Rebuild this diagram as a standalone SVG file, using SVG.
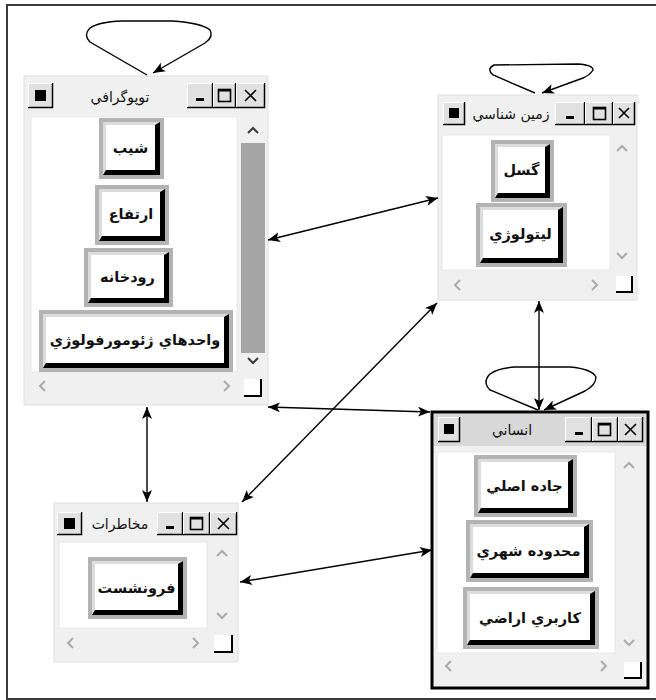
<svg xmlns="http://www.w3.org/2000/svg" width="656" height="700" viewBox="0 0 656 700">
<style>
.win{fill:#f0f0f0;stroke:#e0e0e0;stroke-width:1}
.win3{fill:#f0f0f0;stroke:#000;stroke-width:3}
.client{fill:#fff;stroke:#e8e8e8;stroke-width:1}
.tbf{fill:#e1e1e1}
.tbs{fill:none;stroke:#000;stroke-width:1.5}
.tbh{fill:none;stroke:#fff;stroke-width:1}
.ico{fill:none;stroke:#000;stroke-width:1.6}
.chev{fill:none;stroke:#ababab;stroke-width:2}
.on{stroke:#3c3c3c}
.thumb{fill:#a6a6a6}
.grip{fill:#fff}
.gripl{fill:none;stroke:#000;stroke-width:2}
.bfr{fill:#b3b3b3}
.bsh{fill:#000}
.bhl{fill:#dcdcdc}
.bfc{fill:#fff}
.lbl{font-family:"DejaVu Sans",sans-serif;font-size:14.5px;font-weight:bold;text-anchor:middle;fill:#111}
.ttl{font-family:"DejaVu Sans",sans-serif;font-size:14px;text-anchor:middle;fill:#111}
.conn{fill:none;stroke:#000;stroke-width:1.4}
</style>
<defs>
<marker id="ah" viewBox="0 0 12 10" refX="12" refY="5" markerWidth="12" markerHeight="10" markerUnits="userSpaceOnUse" orient="auto-start-reverse">
<path d="M0,0 L12,5 L0,10 L3,5 z" fill="#000"/>
</marker>
</defs>
<rect x="0" y="0" width="656" height="700" fill="#fff"/>
<rect x="7" y="5" width="670" height="694" fill="none" stroke="#3a3a3a" stroke-width="2"/>

<g id="node-topography">
<rect class="win" x="24" y="76" width="244" height="329"/>
<g transform="translate(28,83)"><rect class="tbf" width="25" height="25"/><path class="tbs" d="M0,24.5H24.5V0"/><path class="tbh" d="M0.5,24V0.5H24"/><rect x="7" y="7" width="11" height="11" fill="#000"/></g>
<text class="ttl" x="120" y="102">توپوگرافي</text>
<g transform="translate(187,83)"><rect class="tbf" width="26" height="25"/><path class="tbs" d="M0,24.5H25.5V0"/><path class="tbh" d="M0.5,24V0.5H25"/><rect x="9" y="15" width="8" height="3" fill="#000"/></g>
<g transform="translate(213,83)"><rect class="tbf" width="23" height="25"/><path class="tbs" d="M0,24.5H22.5V0"/><path class="tbh" d="M0.5,24V0.5H22"/><rect class="ico" x="5.5" y="6.5" width="12" height="12"/><rect x="5" y="6" width="13" height="2.5" fill="#000"/></g>
<g transform="translate(236,83)"><rect class="tbf" width="29" height="25"/><path class="tbs" d="M0,24.5H28.5V0"/><path class="tbh" d="M0.5,24V0.5H28"/><path class="ico" d="M9,7L20,18M20,7L9,18" stroke-width="2"/></g>
<rect class="client" x="31" y="117" width="206" height="255"/>
<rect class="thumb" x="241" y="143" width="24" height="210"/>
<path class="chev on" d="M248,133L253,128L258,133"/>
<path class="chev on" d="M248,358L253,363L258,358"/>
<path class="chev" d="M45,381L40,386L45,391"/>
<path class="chev" d="M224,381L229,386L224,391"/>
<rect class="grip" x="244" y="379" width="17" height="17"/><path class="gripl" d="M244,396H261V379"/>
<g id="btn-shib">
<rect class="bfr" x="99" y="118" width="65" height="61"/>
<rect class="bsh" x="103" y="122" width="57" height="53"/>
<polygon class="bhl" points="103,122 160,122 155,125 106,125 106,170 103,175"/>
<rect class="bfc" x="106" y="125" width="49" height="45"/>
<text class="lbl" x="130.5" y="153">شيب</text>
</g>
<g id="btn-ertefa">
<rect class="bfr" x="95" y="185" width="74" height="60"/>
<rect class="bsh" x="99" y="189" width="66" height="52"/>
<polygon class="bhl" points="99,189 165,189 160,192 102,192 102,236 99,241"/>
<rect class="bfc" x="102" y="192" width="58" height="44"/>
<text class="lbl" x="131" y="219">ارتفاع</text>
</g>
<g id="btn-roodkhane">
<rect class="bfr" x="84" y="248" width="89" height="59"/>
<rect class="bsh" x="88" y="252" width="81" height="51"/>
<polygon class="bhl" points="88,252 169,252 164,255 91,255 91,298 88,303"/>
<rect class="bfc" x="91" y="255" width="73" height="43"/>
<text class="lbl" x="127.5" y="282">رودخانه</text>
</g>
<g id="btn-geomorph">
<rect class="bfr" x="39" y="310" width="194" height="62"/>
<rect class="bsh" x="43" y="314" width="186" height="54"/>
<polygon class="bhl" points="43,314 229,314 224,317 46,317 46,363 43,368"/>
<rect class="bfc" x="46" y="317" width="178" height="46"/>
<text class="lbl" x="135" y="345">واحدهاي ژئومورفولوژي</text>
</g>
</g>

<g id="node-geology">
<rect class="win" x="438" y="95" width="199" height="205"/>
<g transform="translate(443,102)"><rect class="tbf" width="22" height="23"/><path class="tbs" d="M0,22.5H21.5V0"/><path class="tbh" d="M0.5,22V0.5H21"/><rect x="6" y="6" width="10" height="10" fill="#000"/></g>
<text class="ttl" x="511" y="119">زمين شناسي</text>
<g transform="translate(555,102)"><rect class="tbf" width="30" height="23"/><path class="tbs" d="M0,22.5H29.5V0"/><path class="tbh" d="M0.5,22V0.5H29"/><rect x="11" y="14" width="8" height="3" fill="#000"/></g>
<g transform="translate(585,102)"><rect class="tbf" width="28" height="23"/><path class="tbs" d="M0,22.5H27.5V0"/><path class="tbh" d="M0.5,22V0.5H27"/><rect class="ico" x="8.5" y="5.5" width="12" height="12"/><rect x="8" y="5" width="13" height="2.5" fill="#000"/></g>
<g transform="translate(613,102)"><rect class="tbf" width="22" height="23"/><path class="tbs" d="M0,22.5H21.5V0"/><path class="tbh" d="M0.5,22V0.5H21"/><path class="ico" d="M6,6L16,16M16,6L6,16" stroke-width="2"/></g>
<rect class="client" x="442" y="135" width="168" height="135"/>
<path class="chev" d="M617,151L622,146L627,151"/>
<path class="chev" d="M617,253L622,258L627,253"/>
<path class="chev" d="M460,280L455,285L460,290"/>
<path class="chev" d="M592,280L597,285L592,290"/>
<rect class="grip" x="616" y="276" width="16" height="16"/><path class="gripl" d="M616,292H632V276"/>
<g id="btn-gosal">
<rect class="bfr" x="491" y="140" width="63" height="62"/>
<rect class="bsh" x="495" y="144" width="55" height="54"/>
<polygon class="bhl" points="495,144 550,144 545,147 498,147 498,193 495,198"/>
<rect class="bfc" x="498" y="147" width="47" height="46"/>
<text class="lbl" x="521.5" y="175">گسل</text>
</g>
<g id="btn-litho">
<rect class="bfr" x="476" y="203" width="91" height="64"/>
<rect class="bsh" x="480" y="207" width="83" height="56"/>
<polygon class="bhl" points="480,207 563,207 558,210 483,210 483,258 480,263"/>
<rect class="bfc" x="483" y="210" width="75" height="48"/>
<text class="lbl" x="520.5" y="239">ليتولوژي</text>
</g>
</g>

<g id="node-human">
<rect class="win3" x="432" y="412" width="216" height="276"/>
<rect x="434" y="414" width="212" height="32" fill="#d8d8d8"/>
<g transform="translate(438,417)"><rect class="tbf" width="22" height="25"/><path class="tbs" d="M0,24.5H21.5V0"/><path class="tbh" d="M0.5,24V0.5H21"/><rect x="6" y="7" width="10" height="10" fill="#000"/></g>
<text class="ttl" x="512" y="435">انساني</text>
<g transform="translate(565,417)"><rect class="tbf" width="27" height="25"/><path class="tbs" d="M0,24.5H26.5V0"/><path class="tbh" d="M0.5,24V0.5H26"/><rect x="10" y="15" width="8" height="3" fill="#000"/></g>
<g transform="translate(592,417)"><rect class="tbf" width="26" height="25"/><path class="tbs" d="M0,24.5H25.5V0"/><path class="tbh" d="M0.5,24V0.5H25"/><rect class="ico" x="6.5" y="6.5" width="12" height="12"/><rect x="6" y="6" width="13" height="2.5" fill="#000"/></g>
<g transform="translate(618,417)"><rect class="tbf" width="25" height="25"/><path class="tbs" d="M0,24.5H24.5V0"/><path class="tbh" d="M0.5,24V0.5H24"/><path class="ico" d="M7,7L18,18M18,7L7,18" stroke-width="2"/></g>
<rect class="client" x="437" y="452" width="178" height="201"/>
<path class="chev" d="M624,468L629,463L634,468"/>
<path class="chev" d="M624,640L629,645L634,640"/>
<path class="chev" d="M451,661L446,666L451,671"/>
<path class="chev" d="M601,661L606,666L601,671"/>
<rect class="grip" x="624" y="662" width="17" height="16"/><path class="gripl" d="M624,678H641V662"/>
<g id="btn-jadeh">
<rect class="bfr" x="474" y="455" width="103" height="62"/>
<rect class="bsh" x="478" y="459" width="95" height="54"/>
<polygon class="bhl" points="478,459 573,459 568,462 481,462 481,508 478,513"/>
<rect class="bfc" x="481" y="462" width="87" height="46"/>
<text class="lbl" x="524.5" y="491">جاده اصلي</text>
</g>
<g id="btn-mahdoodeh">
<rect class="bfr" x="466" y="520" width="127" height="62"/>
<rect class="bsh" x="470" y="524" width="119" height="54"/>
<polygon class="bhl" points="470,524 589,524 584,527 473,527 473,573 470,578"/>
<rect class="bfc" x="473" y="527" width="111" height="46"/>
<text class="lbl" x="528.5" y="556">محدوده شهري</text>
</g>
<g id="btn-karbari">
<rect class="bfr" x="463" y="587" width="136" height="62"/>
<rect class="bsh" x="467" y="591" width="128" height="54"/>
<polygon class="bhl" points="467,591 595,591 590,594 470,594 470,640 467,645"/>
<rect class="bfc" x="470" y="594" width="120" height="46"/>
<text class="lbl" x="530" y="623">كاربري اراضي</text>
</g>
</g>

<g id="node-hazards">
<rect class="win" x="54" y="503" width="184" height="159"/>
<g transform="translate(57,512)"><rect class="tbf" width="25" height="23"/><path class="tbs" d="M0,22.5H24.5V0"/><path class="tbh" d="M0.5,22V0.5H24"/><rect x="7" y="6" width="11" height="11" fill="#000"/></g>
<text class="ttl" x="120" y="529">مخاطرات</text>
<g transform="translate(157,512)"><rect class="tbf" width="26" height="23"/><path class="tbs" d="M0,22.5H25.5V0"/><path class="tbh" d="M0.5,22V0.5H25"/><rect x="9" y="14" width="8" height="3" fill="#000"/></g>
<g transform="translate(183,512)"><rect class="tbf" width="27" height="23"/><path class="tbs" d="M0,22.5H26.5V0"/><path class="tbh" d="M0.5,22V0.5H26"/><rect class="ico" x="7.5" y="5.5" width="12" height="12"/><rect x="7" y="5" width="13" height="2.5" fill="#000"/></g>
<g transform="translate(210,512)"><rect class="tbf" width="27" height="23"/><path class="tbs" d="M0,22.5H26.5V0"/><path class="tbh" d="M0.5,22V0.5H26"/><path class="ico" d="M8,6L19,17M19,6L8,17" stroke-width="2"/></g>
<rect class="client" x="59" y="542" width="148" height="86"/>
<path class="chev" d="M217,556L222,551L227,556"/>
<path class="chev" d="M217,613L222,618L227,613"/>
<path class="chev" d="M73,638L68,643L73,648"/>
<path class="chev" d="M193,638L198,643L193,648"/>
<rect class="grip" x="214" y="635" width="18" height="17"/><path class="gripl" d="M214,652H232V635"/>
<g id="btn-foroonesht">
<rect class="bfr" x="88" y="557" width="99" height="62"/>
<rect class="bsh" x="92" y="561" width="91" height="54"/>
<polygon class="bhl" points="92,561 183,561 178,564 95,564 95,610 92,615"/>
<rect class="bfc" x="95" y="564" width="83" height="46"/>
<text class="lbl" x="136.5" y="593">فرونشست</text>
</g>
</g>

<g id="connectors">
<path class="conn" d="M147,75 L90,42 Q83,35 90,28 Q98,22 122,21 L172,21 Q202,23 210,30 Q214,37 205,43 L153,73" marker-end="url(#ah)"/>
<path class="conn" d="M535,93 L493,75 Q486,69 494,65 L578,64 Q593,65 593,70 Q590,75 583,78 L542,93" marker-end="url(#ah)"/>
<path class="conn" d="M538,410 L490,390 Q482,382 490,374 Q498,368 515,367 L570,367 Q592,369 596,377 Q596,385 585,391 L544,410" marker-end="url(#ah)"/>
<line class="conn" x1="268" y1="240" x2="438" y2="198" marker-start="url(#ah)" marker-end="url(#ah)"/>
<line class="conn" x1="268" y1="407" x2="430" y2="412" marker-start="url(#ah)" marker-end="url(#ah)"/>
<line class="conn" x1="242" y1="502" x2="437" y2="303" marker-start="url(#ah)" marker-end="url(#ah)"/>
<line class="conn" x1="240" y1="582" x2="432" y2="550" marker-start="url(#ah)" marker-end="url(#ah)"/>
<line class="conn" x1="147" y1="407" x2="147" y2="502" marker-start="url(#ah)" marker-end="url(#ah)"/>
<line class="conn" x1="539" y1="301" x2="539" y2="410" marker-start="url(#ah)" marker-end="url(#ah)"/>
</g>
</svg>
